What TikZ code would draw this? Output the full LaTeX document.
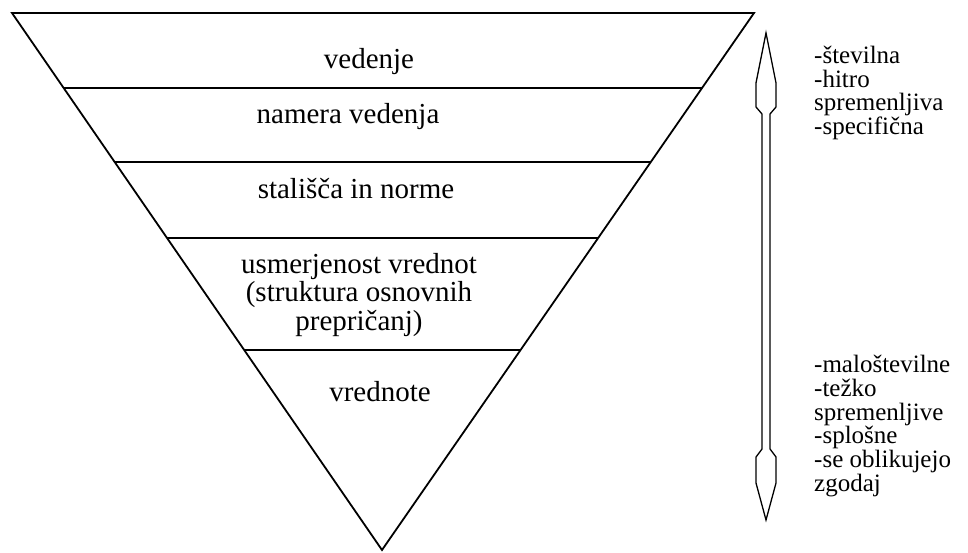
\documentclass[tikz,border=0pt]{standalone}
\usepackage{fontspec}
\setmainfont{Liberation Serif}
\usetikzlibrary{calc}

\begin{document}
\begin{tikzpicture}[x=1pt,y=-1pt,
  every node/.style={inner sep=0pt,align=center},
  layer/.style={font=\fontsize{29}{28.5}\selectfont},
  note/.style={font=\fontsize{25}{23.8}\selectfont,align=left,anchor=west},
  rim/.style={line width=1.8pt,line join=miter},
  divider/.style={line width=1.6pt},
  dblarrow/.style={line width=1.3pt,line join=miter}
]
\useasboundingbox (0,0) rectangle (968,553);
% inverted triangle
\coordinate (tl) at (12,13);
\coordinate (tr) at (754,13);
\coordinate (apex) at (382,550);
\draw[rim] (tl) -- (tr) -- (apex) -- cycle;
% layer borders
\foreach \t in {0.1397,0.2775,0.419,0.6276}
  \draw[divider] ($(tl)!\t!(apex)$) -- ($(tr)!\t!(apex)$);
% layer texts
\node[layer] (ved) at (369,62) {vedenje};
\node[layer] (nam) at (348,117) {namera vedenja};
\node[layer] (sta) at (356,189) {stališča in norme};
\node[layer] (usm) at (359,295) {usmerjenost vrednot\\(struktura osnovnih\\prepričanj)};
\node[layer] (vre) at (380,392) {vrednote};
% double arrow
\coordinate (atop) at (766,33);
\coordinate (abot) at (766,520);
\draw[dblarrow] (atop) -- ($(atop)+(10,50)$) -- ($(atop)+(10,74)$) -- ($(atop)+(4,81)$)
  -- ($(abot)+(4,-71)$) -- ($(abot)+(10,-63)$) -- ($(abot)+(10,-37)$) -- (abot)
  -- ($(abot)+(-10,-37)$) -- ($(abot)+(-10,-63)$) -- ($(abot)+(-4,-71)$)
  -- ($(atop)+(-4,81)$) -- ($(atop)+(-10,74)$) -- ($(atop)+(-10,50)$) -- cycle;
% properties
\node[note] (top) at (814,93) {-številna\\-hitro\\spremenljiva\\-specifična};
\node[note] (low) at (814,426) {-maloštevilne\\-težko\\spremenljive\\-splošne\\-se oblikujejo\\zgodaj};
\end{tikzpicture}
\end{document}
